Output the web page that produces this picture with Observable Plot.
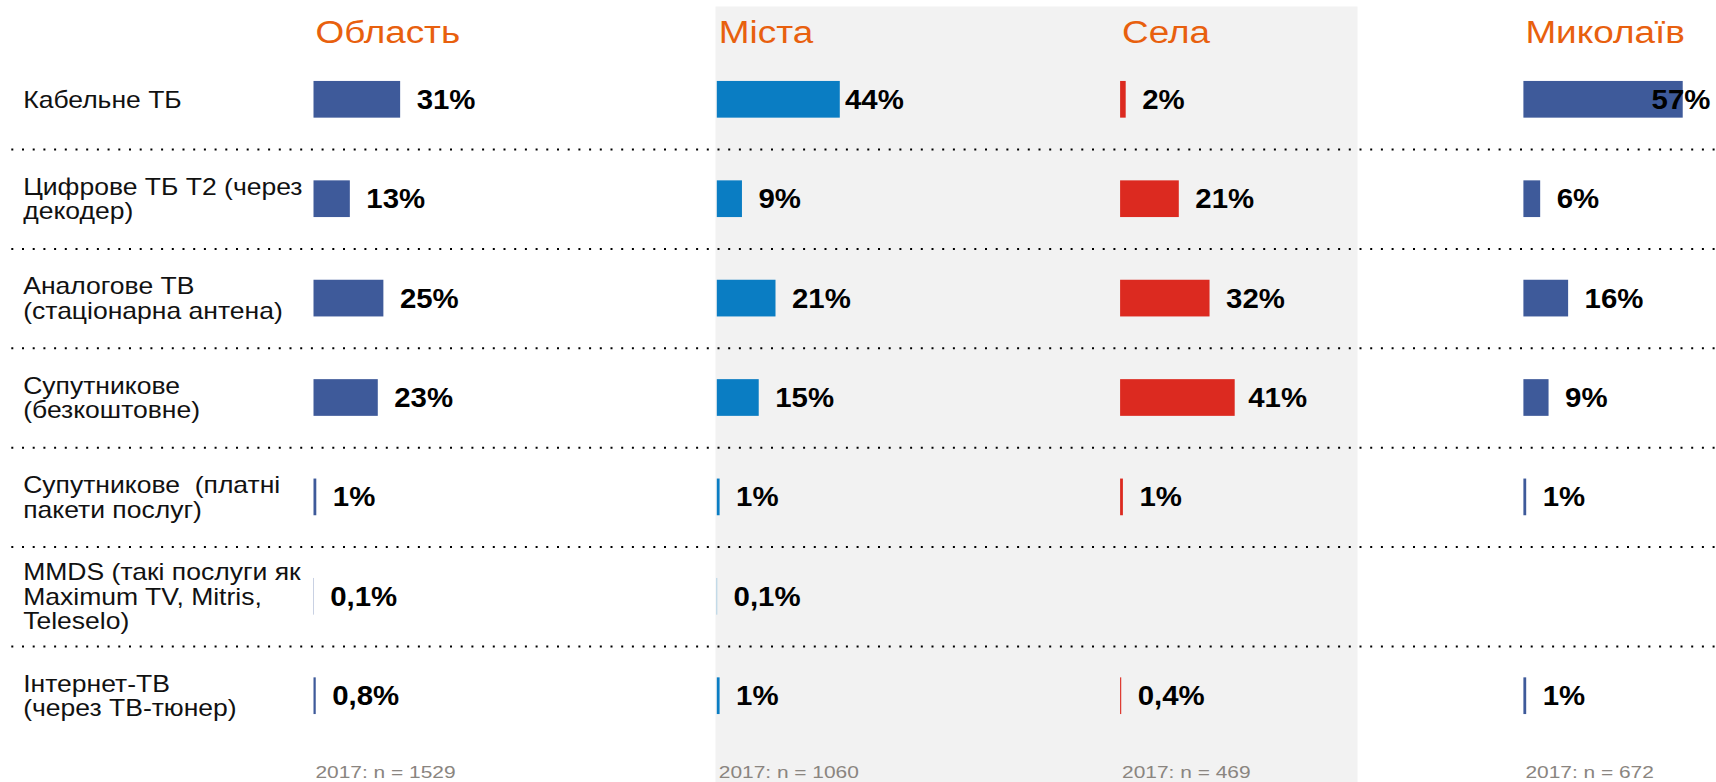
<!DOCTYPE html>
<html>
<head>
<meta charset="utf-8">
<script src="https://cdn.jsdelivr.net/npm/d3@7"></script>
<script src="https://cdn.jsdelivr.net/npm/@observablehq/plot@0.6"></script>
<style>
  html, body { margin: 0; padding: 0; background: #ffffff; }
  #chart svg { display: block; }
</style>
</head>
<body>
<div id="chart"></div>
<script>
// ---------- data ----------
const groups = ["Область", "Міста", "Села", "Миколаїв"];
const categories = [
  "Кабельне ТБ",
  "Цифрове ТБ Т2 (через\nдекодер)",
  "Аналогове ТВ\n(стаціонарна антена)",
  "Супутникове\n(безкоштовне)",
  "Супутникове\u00a0 (платні\nпакети послуг)",
  "MMDS (такі послуги як\nMaximum TV, Mitris,\nTeleselo)",
  "Інтернет-ТВ\n(через ТВ-тюнер)"
];
const oblast   = [31, 13, 25, 23, 1, 0.1, 0.8];
const mista    = [44,  9, 21, 15, 1, 0.1, 1];
const sela     = [ 2, 21, 32, 41, 1, null, 0.4];
const mykolaiv = [57,  6, 16,  9, 1, null, 1];
const sampleSizes = [1529, 1060, 469, 672];
const sampleYear = "2017";

// ---------- styles / layout ----------
const groupColors = ["#3e5a9a", "#0a7dc3", "#dc2a20", "#3e5a9a"];
const orange = "#e8600e";
const W = 1716, H = 782;
const left = 313.5, step = 403.3, band = 187.5;
const firstRow = 99.3, rowStep = 99.4, barH = 36.7;
const pxPerPct = 2.795;
const marginTop = firstRow - rowStep / 2;
const marginBottom = H - (firstRow + (categories.length - 0.5) * rowStep);
const padInner = 1 - band / step;
const marginRight = W - (left + step * (groups.length - padInner));
const xmax = band / pxPerPct;
const yPadInner = 1 - barH / rowStep;
const fontFamily = "'Liberation Sans', Arial, sans-serif";
// font size -> horizontal stretch of the text (the reference lettering is wide)
const fs = {header: 31, row: 24, value: 28, caption: 17};
const stretch = {31: 1.19, 24: 1.105, 28: 1.05, 17: 1.23};

const seriesByGroup = [oblast, mista, sela, mykolaiv];
const rows = groups.flatMap((g, gi) =>
  categories.map((c, ci) => ({group: g, category: c, value: seriesByGroup[gi][ci]}))
).filter(d => d.value != null);

const fmt = v => String(v).replace(".", ",") + "%";

const ctx = document.createElement("canvas").getContext("2d");
ctx.font = `bold ${fs.value}px ${fontFamily}`;
const textW = s => ctx.measureText(s).width * stretch[fs.value];
const labelX = d => Math.min(d.value + 16 / pxPerPct, (band - textW(fmt(d.value)) - 1) / pxPerPct);

const bandStart = i => left + i * step;
const lastEnd = bandStart(groups.length - 1) + band;

const chart = Plot.plot({
  width: W,
  height: H,
  marginLeft: left,
  marginRight: marginRight,
  marginTop: marginTop,
  marginBottom: marginBottom,
  style: {fontFamily: fontFamily, background: "transparent"},
  fx: {domain: groups, paddingInner: padInner, paddingOuter: 0, align: 0, round: false, axis: null},
  y: {domain: categories, paddingInner: yPadInner, paddingOuter: yPadInner / 2, round: false, axis: null},
  x: {domain: [0, xmax], axis: null},
  color: {domain: groups, range: groupColors},
  marks: [
    // grey background stripe behind Міста and Села
    Plot.frame({
      fx: () => groups[1],
      fill: "#f2f2f2",
      stroke: "none",
      insetLeft: -1.8,
      insetTop: -(marginTop - 6),
      insetBottom: -marginBottom,
      insetRight: (bandStart(1) + band) - 1357
    }),
    // dotted separators spanning the whole width
    Plot.ruleY(categories.slice(0, -1), {
      fx: () => groups[groups.length - 1],
      y: d => d,
      dy: rowStep / 2,
      insetLeft: -(bandStart(groups.length - 1) - 11.3),
      insetRight: -(W - lastEnd),
      stroke: "#000",
      strokeWidth: 2,
      strokeDasharray: "2 8.7"
    }),
    // bars
    Plot.barX(rows, {fx: "group", y: "category", x: "value", fill: "group"}),
    // value labels
    Plot.text(rows, {
      fx: "group", y: "category", x: labelX,
      text: d => fmt(d.value),
      textAnchor: "start",
      fontSize: fs.value, fontWeight: "bold", fill: "#000"
    }),
    // row labels
    Plot.text(categories, {
      fx: () => groups[0],
      y: d => d,
      text: d => d,
      frameAnchor: "left",
      textAnchor: "start",
      dx: 22.7 - left,
      fontSize: fs.row,
      lineHeight: 1.03,
      fill: "#111"
    }),
    // column headers
    Plot.text(groups, {
      fx: d => d,
      text: d => d,
      frameAnchor: "top-left",
      textAnchor: "start",
      lineAnchor: "bottom",
      dx: 1.5,
      dy: 42.5 - marginTop,
      fontSize: fs.header,
      fill: orange
    }),
    // sample sizes
    Plot.text(groups, {
      fx: d => d,
      text: (d, i) => `${sampleYear}: n = ${sampleSizes[i]}`,
      frameAnchor: "bottom-left",
      textAnchor: "start",
      lineAnchor: "bottom",
      dx: 1.5,
      dy: 777 - (H - marginBottom),
      fontSize: fs.caption,
      fill: "#8a8580"
    })
  ]
});

// widen text horizontally to match the reference's stretched lettering
const findSize = el => {
  for (let n = el; n && n.getAttribute; n = n.parentNode) {
    const v = n.getAttribute("font-size");
    if (v) return parseFloat(v);
  }
  return null;
};
chart.querySelectorAll("text").forEach(t => {
  const s = stretch[findSize(t)];
  if (!s) return;
  const tr = t.getAttribute("transform");
  if (tr && tr.includes("translate")) {
    t.setAttribute("transform", `${tr} scale(${s},1)`);
  } else {
    const x = +(t.getAttribute("x") || 0);
    t.setAttribute("transform", `translate(${x},0) scale(${s},1) translate(${-x},0)`);
  }
});

document.getElementById("chart").appendChild(chart);
</script>
</body>
</html>
